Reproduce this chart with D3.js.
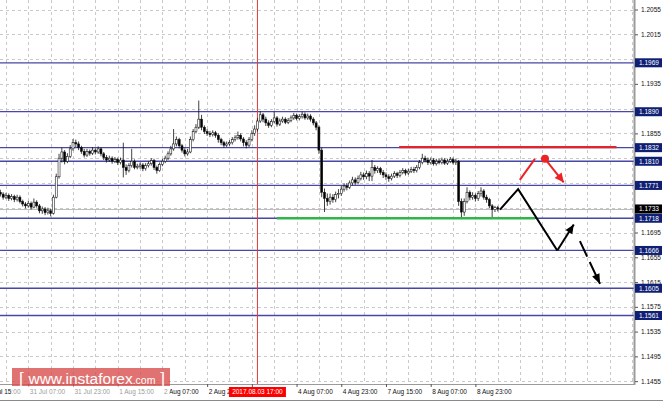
<!DOCTYPE html>
<html><head><meta charset="utf-8">
<script src="https://cdn.jsdelivr.net/npm/d3@7"></script>
<style>body{margin:0;background:#fff;overflow:hidden}svg{display:block;font-family:"Liberation Sans",Arial,sans-serif}</style>
</head><body><svg id="c" width="663" height="402"></svg>
<script>
// ---------- DATA ----------
const firstOpen = 1.1760;
const closes = [1.1757,1.1752,1.1755,1.1750,1.1753,1.1748,1.1752,1.1745,1.1741,1.1738,
1.1742,1.1736,1.1744,1.1738,1.1730,1.1733,1.1727,1.1730,1.1726,1.1752,
1.1785,1.1815,1.1825,1.1810,1.1818,1.1830,1.1840,1.1838,1.1832,1.1826,
1.1820,1.1826,1.1823,1.1828,1.1825,1.1830,1.1822,1.1816,1.1812,1.1815,
1.1810,1.1813,1.1808,1.1812,1.1800,1.1795,1.1803,1.1810,1.1800,1.1802,
1.1804,1.1798,1.1803,1.1806,1.1811,1.1800,1.1795,1.1805,1.1810,1.1815,
1.1822,1.1830,1.1838,1.1845,1.1835,1.1828,1.1822,1.1825,1.1845,1.1858,
1.1865,1.1878,1.1865,1.1858,1.1855,1.1853,1.1856,1.1852,1.1845,1.1840,
1.1836,1.1838,1.1840,1.1845,1.1848,1.1852,1.1846,1.1840,1.1836,1.1845,
1.1855,1.1862,1.1875,1.1885,1.1878,1.1872,1.1868,1.1874,1.1880,1.1870,
1.1875,1.1878,1.1873,1.1876,1.1880,1.1884,1.1879,1.1882,1.1886,1.1880,
1.1883,1.1878,1.1872,1.1865,1.1828,1.1760,1.1750,1.1745,1.1752,1.1748,
1.1756,1.1758,1.1765,1.1770,1.1768,1.1775,1.1780,1.1776,1.1782,1.1788,
1.1785,1.1790,1.1786,1.1800,1.1795,1.1798,1.1792,1.1788,1.1785,1.1782,
1.1786,1.1790,1.1787,1.1792,1.1795,1.1791,1.1794,1.1797,1.1795,1.1800,
1.1808,1.1815,1.1812,1.1808,1.1812,1.1806,1.1810,1.1808,1.1812,1.1807,
1.1810,1.1813,1.1808,1.1810,1.1745,1.1728,1.1745,1.1760,1.1752,1.1755,
1.1750,1.1758,1.1762,1.1752,1.1748,1.1738,1.1732,1.1735,1.1733];
const highs = [1.1764,1.1760,1.1759,1.1758,1.1757,1.1756,1.1756,1.1755,1.1748,1.1744,
1.1746,1.1745,1.1750,1.1747,1.1741,1.1737,1.1736,1.1735,1.1733,1.1756,
1.1790,1.1822,1.1832,1.1828,1.1823,1.1836,1.1846,1.1845,1.1842,1.1835,
1.1830,1.1830,1.1829,1.1833,1.1831,1.1834,1.1832,1.1825,1.1820,1.1819,
1.1818,1.1817,1.1816,1.1816,1.1840,1.1805,1.1807,1.1830,1.1813,1.1806,
1.1808,1.1807,1.1807,1.1810,1.1815,1.1814,1.1803,1.1808,1.1814,1.1819,
1.1826,1.1835,1.1862,1.1850,1.1848,1.1838,1.1831,1.1830,1.1850,1.1862,
1.1870,1.1908,1.1885,1.1868,1.1862,1.1859,1.1860,1.1859,1.1855,1.1848,
1.1843,1.1842,1.1844,1.1849,1.1852,1.1858,1.1855,1.1849,1.1844,1.1849,
1.1860,1.1868,1.1880,1.1891,1.1888,1.1882,1.1876,1.1878,1.1890,1.1883,
1.1879,1.1882,1.1881,1.1880,1.1884,1.1888,1.1887,1.1886,1.1890,1.1889,
1.1887,1.1886,1.1881,1.1875,1.1868,1.1832,1.1766,1.1758,1.1758,1.1757,
1.1761,1.1765,1.1770,1.1774,1.1775,1.1779,1.1785,1.1784,1.1787,1.1793,
1.1792,1.1795,1.1794,1.1812,1.1804,1.1802,1.1801,1.1796,1.1792,1.1789,
1.1790,1.1794,1.1793,1.1796,1.1799,1.1798,1.1798,1.1801,1.1801,1.1804,
1.1812,1.1822,1.1819,1.1816,1.1816,1.1815,1.1814,1.1814,1.1816,1.1815,
1.1814,1.1817,1.1816,1.1814,1.1812,1.1750,1.1750,1.1768,1.1763,1.1760,
1.1758,1.1762,1.1768,1.1765,1.1756,1.1751,1.1741,1.1738,1.1738];
const lows = [1.1753,1.1748,1.1749,1.1746,1.1747,1.1744,1.1745,1.1742,1.1737,1.1734,
1.1735,1.1732,1.1734,1.1735,1.1726,1.1725,1.1723,1.1724,1.1721,1.1724,
1.1750,1.1782,1.1808,1.1805,1.1807,1.1815,1.1827,1.1833,1.1828,1.1822,
1.1816,1.1817,1.1819,1.1820,1.1821,1.1822,1.1818,1.1812,1.1808,1.1809,
1.1806,1.1807,1.1804,1.1805,1.1784,1.1788,1.1792,1.1800,1.1797,1.1797,
1.1798,1.1794,1.1795,1.1800,1.1803,1.1796,1.1790,1.1793,1.1802,1.1807,
1.1812,1.1819,1.1827,1.1834,1.1831,1.1824,1.1818,1.1819,1.1823,1.1842,
1.1855,1.1862,1.1860,1.1854,1.1851,1.1849,1.1850,1.1848,1.1840,1.1836,
1.1832,1.1833,1.1835,1.1837,1.1842,1.1845,1.1842,1.1834,1.1831,1.1833,
1.1842,1.1851,1.1858,1.1872,1.1873,1.1867,1.1864,1.1865,1.1871,1.1866,
1.1867,1.1872,1.1870,1.1870,1.1873,1.1877,1.1876,1.1876,1.1879,1.1877,
1.1877,1.1874,1.1868,1.1860,1.1822,1.1752,1.1728,1.1738,1.1740,1.1743,
1.1744,1.1750,1.1754,1.1761,1.1763,1.1765,1.1771,1.1772,1.1773,1.1779,
1.1780,1.1781,1.1778,1.1778,1.1790,1.1791,1.1788,1.1783,1.1780,1.1777,
1.1779,1.1783,1.1783,1.1784,1.1789,1.1787,1.1788,1.1791,1.1791,1.1792,
1.1797,1.1805,1.1808,1.1804,1.1805,1.1803,1.1803,1.1805,1.1805,1.1804,
1.1804,1.1807,1.1805,1.1804,1.1738,1.1718,1.1722,1.1742,1.1747,1.1748,
1.1745,1.1746,1.1753,1.1748,1.1743,1.1734,1.1719,1.1728,1.1729];
const priceTicks = [1.2055,1.2015,1.1975,1.1935,1.1895,1.1855,1.1815,1.1775,1.1735,1.1695,1.1655,1.1615,1.1575,1.1535,1.1495,1.1455];
const levels = [1.1969,1.1890,1.1832,1.1810,1.1771,1.1718,1.1666,1.1605,1.1561];
const currentPrice = 1.1733;
const timeLabels = ["28 Jul 15:00","31 Jul 07:00","31 Jul 23:00","1 Aug 15:00","2 Aug 07:00","2 Aug 23:00","3 Aug 15:00","4 Aug 07:00","4 Aug 23:00","7 Aug 15:00","8 Aug 07:00","8 Aug 23:00"];
const timeLabelBars = [-6,10,26,42,58,74,90,106,122,138,154,170];
const cursorBar = 92;
const cursorLabel = "2017.08.03 17:00";
const resistanceLine = [[142.7,1.1833],[220.5,1.1833]];
const supportLine = [[98.9,1.1718],[191.3,1.1718]];
const blackPath = [[178.8,1.1732],[185.3,1.1765],[199.3,1.1666]];
const blackUp = [[199.3,1.1666],[205.2,1.1708]];
const blackDown = [[207.4,1.1681],[214.6,1.1612]];
const redUp = [[185.9,1.1780],[191.3,1.1814]];
const redDot = [194.9,1.1814];
const redDown = [[194.9,1.1814],[201.6,1.1776]];
const watermark = "www.instaforex";
const watermarkTail = ".com";

// ---------- CHART ----------
const svg = d3.select("#c");
const plotR = 634, plotB = 384;
const x = d3.scaleLinear().domain([10,170]).range([28.3,475.4]);
const y = d3.scaleLinear().domain([1.2015,1.1561]).range([34.3,315.5]);
const gridColor = "#c9c9c9";
const boxPrices = levels.concat([currentPrice]);

svg.append("rect").attr("width",663).attr("height",402).attr("fill","#fff");

// grid
const gridBars = d3.range(2, 240, 8).filter(b => x(b) < plotR);
svg.append("g").selectAll("line").data(gridBars).join("line")
  .attr("x1",d=>Math.round(x(d))+0.5).attr("x2",d=>Math.round(x(d))+0.5)
  .attr("y1",0).attr("y2",plotB)
  .attr("stroke",gridColor).attr("stroke-dasharray","3,3");
svg.append("g").selectAll("line").data(priceTicks).join("line")
  .attr("x1",0).attr("x2",plotR)
  .attr("y1",d=>Math.round(y(d))+0.5).attr("y2",d=>Math.round(y(d))+0.5)
  .attr("stroke",gridColor).attr("stroke-dasharray","3,3");

// current price line
svg.append("line").attr("x1",0).attr("x2",plotR)
  .attr("y1",Math.round(y(currentPrice))+0.5).attr("y2",Math.round(y(currentPrice))+0.5)
  .attr("stroke","#bcbcbc");

// level lines
svg.append("g").selectAll("line").data(levels).join("line")
  .attr("x1",0).attr("x2",plotR)
  .attr("y1",d=>y(d)).attr("y2",d=>y(d))
  .attr("stroke","#4747a6").attr("stroke-width",1.3);

// cursor line
svg.append("line").attr("x1",x(cursorBar)).attr("x2",x(cursorBar))
  .attr("y1",0).attr("y2",plotB).attr("stroke","#e03a3a").attr("stroke-width",1);

// candles
const bars = closes.map((c,i)=>({i, o: i===0?firstOpen:closes[i-1], c, h: highs[i], l: lows[i]}));
const cg = svg.append("g");
cg.selectAll("line").data(bars).join("line")
  .attr("x1",d=>x(d.i)).attr("x2",d=>x(d.i))
  .attr("y1",d=>y(d.h)).attr("y2",d=>y(d.l))
  .attr("stroke","#111").attr("stroke-width",0.8);
cg.selectAll("rect").data(bars).join("rect")
  .attr("x",d=>x(d.i)-1).attr("width",2)
  .attr("y",d=>y(Math.max(d.o,d.c)))
  .attr("height",d=>Math.max(0.8, Math.abs(y(d.o)-y(d.c))))
  .attr("fill",d=>d.c>=d.o?"#fff":"#000")
  .attr("stroke","#111").attr("stroke-width",0.55);

// support / resistance
const line = d3.line().x(d=>x(d[0])).y(d=>y(d[1]));
svg.append("path").attr("d",line(resistanceLine)).attr("stroke","#e0262b").attr("stroke-width",2.2).attr("fill","none");
svg.append("path").attr("d",line(supportLine)).attr("stroke","#2fb54a").attr("stroke-width",2.5).attr("fill","none");

// arrows
function arrowHead(p0,p1,color,len,wid){
  const x0=x(p0[0]),y0=y(p0[1]),x1=x(p1[0]),y1=y(p1[1]);
  const a=Math.atan2(y1-y0,x1-x0);
  const bx=x1-len*Math.cos(a), by=y1-len*Math.sin(a);
  const nx=-Math.sin(a)*wid/2, ny=Math.cos(a)*wid/2;
  svg.append("path").attr("d",`M${x1},${y1}L${bx+nx},${by+ny}L${bx-nx},${by-ny}Z`).attr("fill",color);
}
svg.append("path").attr("d",line(blackPath)).attr("stroke","#000").attr("stroke-width",2).attr("fill","none");
svg.append("path").attr("d",line(blackUp)).attr("stroke","#000").attr("stroke-width",2).attr("fill","none");
arrowHead(blackUp[0],blackUp[1],"#000",9,8);
svg.append("path").attr("d",line(blackDown)).attr("stroke","#000").attr("stroke-width",2).attr("fill","none").attr("stroke-dasharray","17,6,40");
arrowHead(blackDown[0],blackDown[1],"#000",10,8);
svg.append("path").attr("d",line(redUp)).attr("stroke","#ee2222").attr("stroke-width",2).attr("fill","none");
svg.append("path").attr("d",line(redDown)).attr("stroke","#ee2222").attr("stroke-width",2).attr("fill","none");
arrowHead(redDown[0],redDown[1],"#ee2222",9,9);
svg.append("circle").attr("cx",x(redDot[0])).attr("cy",y(redDot[1])).attr("r",4).attr("fill","#ee2222");

// axes frame
svg.append("rect").attr("x",plotR).attr("y",0).attr("width",29).attr("height",402).attr("fill","#fff");
svg.append("rect").attr("x",0).attr("y",plotB).attr("width",663).attr("height",18).attr("fill","#fff");
svg.append("line").attr("x1",plotR+0.5).attr("x2",plotR+0.5).attr("y1",0).attr("y2",plotB+1).attr("stroke","#9a9a9a").attr("stroke-width",2);
svg.append("line").attr("x1",0).attr("x2",plotR).attr("y1",plotB+0.5).attr("y2",plotB+0.5).attr("stroke","#9a9a9a");
svg.append("line").attr("x1",0).attr("x2",663).attr("y1",400.5).attr("y2",400.5).attr("stroke","#8a8a8a");

// y axis (labels fully covered by a level box are not drawn)
const covered = p => boxPrices.some(b => Math.abs(y(b)-y(p)) < 4);
const yAxis = d3.axisRight(y).tickValues(priceTicks)
  .tickFormat(d => covered(d) ? "" : d3.format(".4f")(d)).tickSize(3).tickPadding(3);
const ya = svg.append("g").attr("transform",`translate(${plotR+1},0)`).call(yAxis);
ya.select(".domain").remove();
ya.selectAll("line").attr("stroke","#555");
ya.selectAll("text").attr("font-size",6.5).attr("fill","#111").attr("font-family","Liberation Sans, Arial, sans-serif");

// x axis (label under the cursor box is hidden by it)
const xAxis = d3.axisBottom(x).tickValues(timeLabelBars)
  .tickFormat((d,i)=> Math.abs(x(d)-x(cursorBar)) < 10 ? "" : timeLabels[i]).tickSize(3).tickPadding(2);
const xa = svg.append("g").attr("transform",`translate(0,${plotB})`).call(xAxis);
xa.select(".domain").remove();
xa.selectAll("line").attr("stroke","#555");
xa.selectAll("text").attr("font-size",6.5).attr("fill","#111").attr("text-anchor","start").attr("dx",1).attr("font-family","Liberation Sans, Arial, sans-serif");

// level label boxes
const lg = svg.append("g").selectAll("g").data(boxPrices).join("g")
  .attr("transform",d=>`translate(${plotR+1},${y(d)})`);
lg.append("rect").attr("x",0).attr("y",-4.5).attr("width",27).attr("height",9)
  .attr("fill",d=>d===currentPrice?"#000":"#0f1f74");
lg.append("text").attr("x",4).attr("dy","0.35em").attr("font-size",6.5).attr("fill","#fff")
  .text(d=>d3.format(".4f")(d));

// cursor label
const cx = x(cursorBar);
svg.append("rect").attr("x",cx-28.5).attr("y",387).attr("width",57).attr("height",10).attr("fill","#ff0000");
svg.append("text").attr("x",cx).attr("y",392).attr("dy","0.35em").attr("text-anchor","middle")
  .attr("font-size",6.5).attr("fill","#fff").text(cursorLabel);

// watermark
svg.append("rect").attr("x",12).attr("y",386).attr("width",158).attr("height",12).attr("fill","#fff").attr("opacity",0.55);
svg.append("rect").attr("x",12).attr("y",368).attr("width",158).attr("height",18).attr("fill","#d94a4a").attr("opacity",0.78);
const wt = svg.append("text").attr("x",19).attr("y",384).attr("fill","#fff").attr("font-family","Liberation Sans, Arial, sans-serif");
wt.append("tspan").attr("font-size",17).attr("font-weight",300).text("[ ");
wt.append("tspan").attr("font-size",15.5).text(watermark);
wt.append("tspan").attr("font-size",10.5).text(watermarkTail);
wt.append("tspan").attr("font-size",17).attr("font-weight",300).text(" ]");
</script></body></html>
